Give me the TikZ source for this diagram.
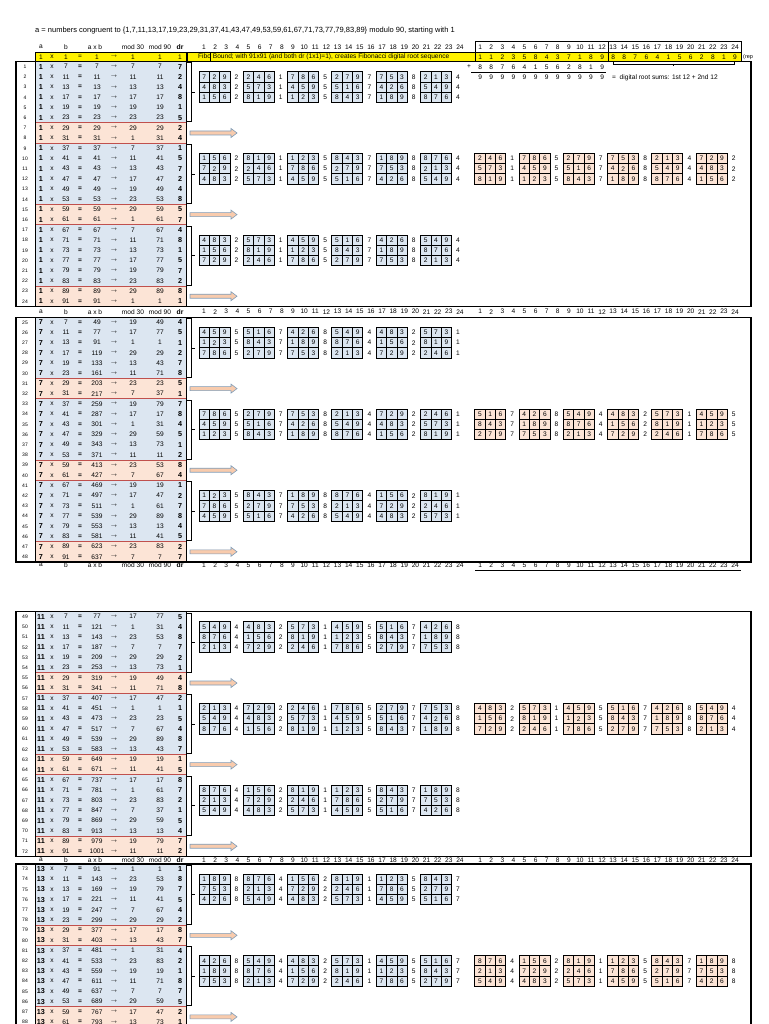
\documentclass[tikz,border=0pt]{standalone}
\usepackage{fontspec}
\setmainfont{Liberation Sans}
\definecolor{bluebg}{HTML}{DCE6F1}
\definecolor{pinkbg}{HTML}{FCE4D6}
\definecolor{redb}{HTML}{C0504D}
\definecolor{arrfill}{HTML}{F8CBAD}
\definecolor{arrline}{HTML}{7F9DB9}
\def\blist{{7,11,13,17,19,23,29,31,37,41,43,47,49,53,59,61,67,71,73,77,79,83,89,91}}
\newcommand\fibrow[6]{%
 \foreach \gi in {0,...,5}{%
   \pgfmathsetmacro\gx{#1+\gi*44.3}%
   \fill[#6] (\gx,#2-5.1) rectangle ++(31,10.2);
   \draw[line width=0.4pt] (\gx+10.33,#2-5.1) -- ++(0,10.2) (\gx+20.67,#2-5.1) -- ++(0,10.2);
   \draw[line width=0.9pt] (\gx,#2-5.1) rectangle ++(31,10.2);
 }%
 \xdef\fa{#3}\xdef\fb{#4}%
 \pgfmathtruncatemacro\kmax{23+#5}%
 \foreach \k in {0,...,\kmax}{%
   \pgfmathtruncatemacro\kk{\k-#5}%
   \ifnum\kk>-1
     \pgfmathtruncatemacro\gi{div(\kk,4)}\pgfmathtruncatemacro\ri{mod(\kk,4)}%
     \ifnum\ri<3 \pgfmathsetmacro\xx{#1+\gi*44.3+5.17+\ri*10.33}\else\pgfmathsetmacro\xx{#1+\gi*44.3+37.5}\fi
     \node at (\xx,#2) {\fa};
   \fi
   \pgfmathtruncatemacro\fnew{1+mod(\fa+\fb-1,9)}%
   \xdef\fa{\fb}\xdef\fb{\fnew}%
 }}
\newcommand\drawblock[3]{%
 \pgfmathsetmacro\by{#2}%
 \foreach \i in {0,...,23}{%
   \pgfmathsetmacro\yy{\by+\i*10.2}%
   \pgfmathtruncatemacro\mm{mod(\i,8)}%
   \ifnum\mm>5 \def\rowcol{pinkbg}\else\def\rowcol{bluebg}\fi
   \fill[\rowcol] (35,\yy-5.1) rectangle (186,\yy+5.1);
   \pgfmathtruncatemacro\bb{\blist[\i]}%
   \pgfmathtruncatemacro\nn{#1*\bb}%
   \pgfmathtruncatemacro\mt{mod(\nn,30)}%
   \pgfmathtruncatemacro\mn{mod(\nn,90)}%
   \pgfmathtruncatemacro\drv{1+mod(\nn-1,9)}%
   \pgfmathtruncatemacro\rn{#3+\i}%
   \node[font=\fontsize{5}{5}\selectfont] at (25,\yy) {\rn};
   \node[font=\fontsize{7.2}{7}\selectfont\bfseries] at (41,\yy) {#1};
   \node at (52,\yy) {x};
   \node at (66,\yy) {\bb};
   \node at (80,\yy) {\textbf{=}};
   \node at (97,\yy) {\nn};
   \node at (114,\yy) {$\scriptscriptstyle\rightarrow$};
   \node at (133,\yy) {\mt};
   \node at (160,\yy) {\mn};
   \node[font=\fontsize{7.2}{7}\selectfont\bfseries] at (180,\yy) {\drv};
 }%
 \foreach \gi in {0,1,2}{%
   \pgfmathsetmacro\ta{\by+(8*\gi+6)*10.2-5.1}%
   \pgfmathsetmacro\tb{\by+(8*\gi+7)*10.2+5.1}%
   \draw[redb,line width=1pt] (35,\ta) rectangle (186,\tb);
   \pgfmathsetmacro\ay{\by+(8*\gi+6.5)*10.2}%
   \draw[arrline,fill=arrfill,line width=0.6pt] (190,\ay-2)--(231,\ay-2)--(231,\ay-4.5)--(237,\ay)--(231,\ay+4.5)--(231,\ay+2)--(190,\ay+2)--cycle;
   \pgfmathsetmacro\bt{\by+(8*\gi)*10.2-4}%
   \pgfmathsetmacro\bm{\by+(8*\gi+5)*10.2+4}%
   \draw[line width=0.4pt] (187,\bt)--(191,\bt)--(191,\bm)--(187,\bm) (191,{(\bt+\bm)/2})--(195,{(\bt+\bm)/2});
   \foreach \j in {0,1,2}{%
     \pgfmathtruncatemacro\ra{8*\gi+2*\j}%
     \pgfmathtruncatemacro\pp{1+mod(#1*\blist[\ra]-1,9)}%
     \pgfmathtruncatemacro\qq{1+mod(#1*\blist[\ra+1]-1,9)}%
     \pgfmathsetmacro\ly{\by+(8*\gi+1+\j)*10.2}%
     \fibrow{199}{\ly}{\pp}{\qq}{0}{bluebg}%
     \ifnum\gi=1
       \pgfmathtruncatemacro\rb{8+2*mod(\j+1,3)}%
       \pgfmathtruncatemacro\pp{1+mod(#1*\blist[\rb]-1,9)}%
       \pgfmathtruncatemacro\qq{1+mod(#1*\blist[\rb+1]-1,9)}%
       \fibrow{474.7}{\ly}{\pp}{\qq}{4}{pinkbg}%
     \fi
   }}%
 \draw[line width=0.9pt] (35,\by-5.1) rectangle (186,\by+23*10.2+5.1);
 \draw[line width=1.2pt] (16,\by-5.1) rectangle (751,\by+23*10.2+5.1);
}
\newcommand\hdr[1]{%
 \begin{scope}[font=\fontsize{6}{6}\selectfont\bfseries]
 \node at (41,#1) {a}; \node at (66,#1) {b}; \node at (95,#1) {a x b};
 \node at (133,#1) {mod 30}; \node at (160,#1) {mod 90}; \node[font=\fontsize{6.8}{7}\selectfont\bfseries] at (180,#1) {dr};
 \foreach \c in {1,...,24}{\node at ({204+(\c-1)*11.13},#1) {\c};
   \node at ({480.2+(\c-1)*11.08},#1) {\c};}
 \end{scope}}
\begin{document}
\begin{tikzpicture}[x=1pt,y=-1pt,every node/.style={font=\fontsize{6.6}{7}\selectfont,inner sep=0pt}]
\useasboundingbox (0,0) rectangle (768,1024);
\fill[white] (0,0) rectangle (768,1024);
\clip (0,0) rectangle (768,1024);
\node[anchor=west,font=\fontsize{7.5}{8}\selectfont] (title) at (35,31) {a = numbers congruent to \{1,7,11,13,17,19,23,29,31,37,41,43,47,49,53,59,61,67,71,73,77,79,83,89\} modulo 90, starting with 1};
\hdr{47}
\draw[line width=0.9pt] (475,41.5) rectangle (741,52.2);
\draw[line width=0.9pt] (608,41.5) -- (608,52.2);
\fill[yellow] (35,52.2) rectangle (186,61.6);
\fill[yellow] (187,52.2) rectangle (741,61.6);
\draw[line width=0.9pt] (35,52.2) rectangle (186,61.6);
\draw[line width=0.9pt] (187,52.2) rectangle (475,61.6);
\draw[line width=0.4pt] (210,52.2) -- (210,61.6);
\draw[line width=0.9pt] (475,52.2) rectangle (741,61.6) (608,52.2)--(608,61.6);
\begin{scope}[font=\fontsize{6.8}{7}\selectfont\bfseries]
\node at (41,57) {1}; \node at (52,57) {x}; \node at (66,57) {1}; \node at (80,57) {=};
\node at (97,57) {1}; \node at (114,57) {$\scriptscriptstyle\rightarrow$}; \node at (133,57) {1}; \node at (160,57) {1}; \node at (180,57) {1};
\begin{scope}
\clip (187,52) rectangle (474,62);
\node[anchor=west] (fibo) at (198,57) {Fibo Bound; with 91x91 (and both dr (1x1)=1), creates Fibonacci digital root sequence};
\end{scope}
\foreach \v [count=\c] in {1,1,2,3,5,8,4,3,7,1,8,9,8,8,7,6,4,1,5,6,2,8,1,9}{\node at ({480.2+(\c-1)*11.08},57) {\v};}
\end{scope}
\node[anchor=west,font=\fontsize{5.5}{6}\selectfont] (rep) at (743,57) {(rep};
\node (plus) at (469,67) {+};
\foreach \v [count=\c] in {8,8,7,6,4,1,5,6,2,8,1,9}{\node at ({480.2+(\c-1)*11.08},67) {\v};
  \node at ({480.2+(\c-1)*11.08},77.5) {9};}
\draw[line width=0.4pt] (471,72) -- (606,72);
\draw[line width=0.4pt] (613,62.5) -- (613,64) -- (734,64) -- (734,62.5) (673,64) -- (673,66.5);
\node[anchor=west] (sums) at (612,77.5) {=\ \ digital root sums: 1st 12 + 2nd 12};
\drawblock{1}{66.7}{1}
\hdr{311.7}
\drawblock{7}{322.3}{25}
\hdr{565}
\draw[line width=0.5pt] (475,570) -- (741,570);
\drawblock{11}{616.7}{49}
\hdr{860}
\drawblock{13}{869}{73}
\end{tikzpicture}
\end{document}
